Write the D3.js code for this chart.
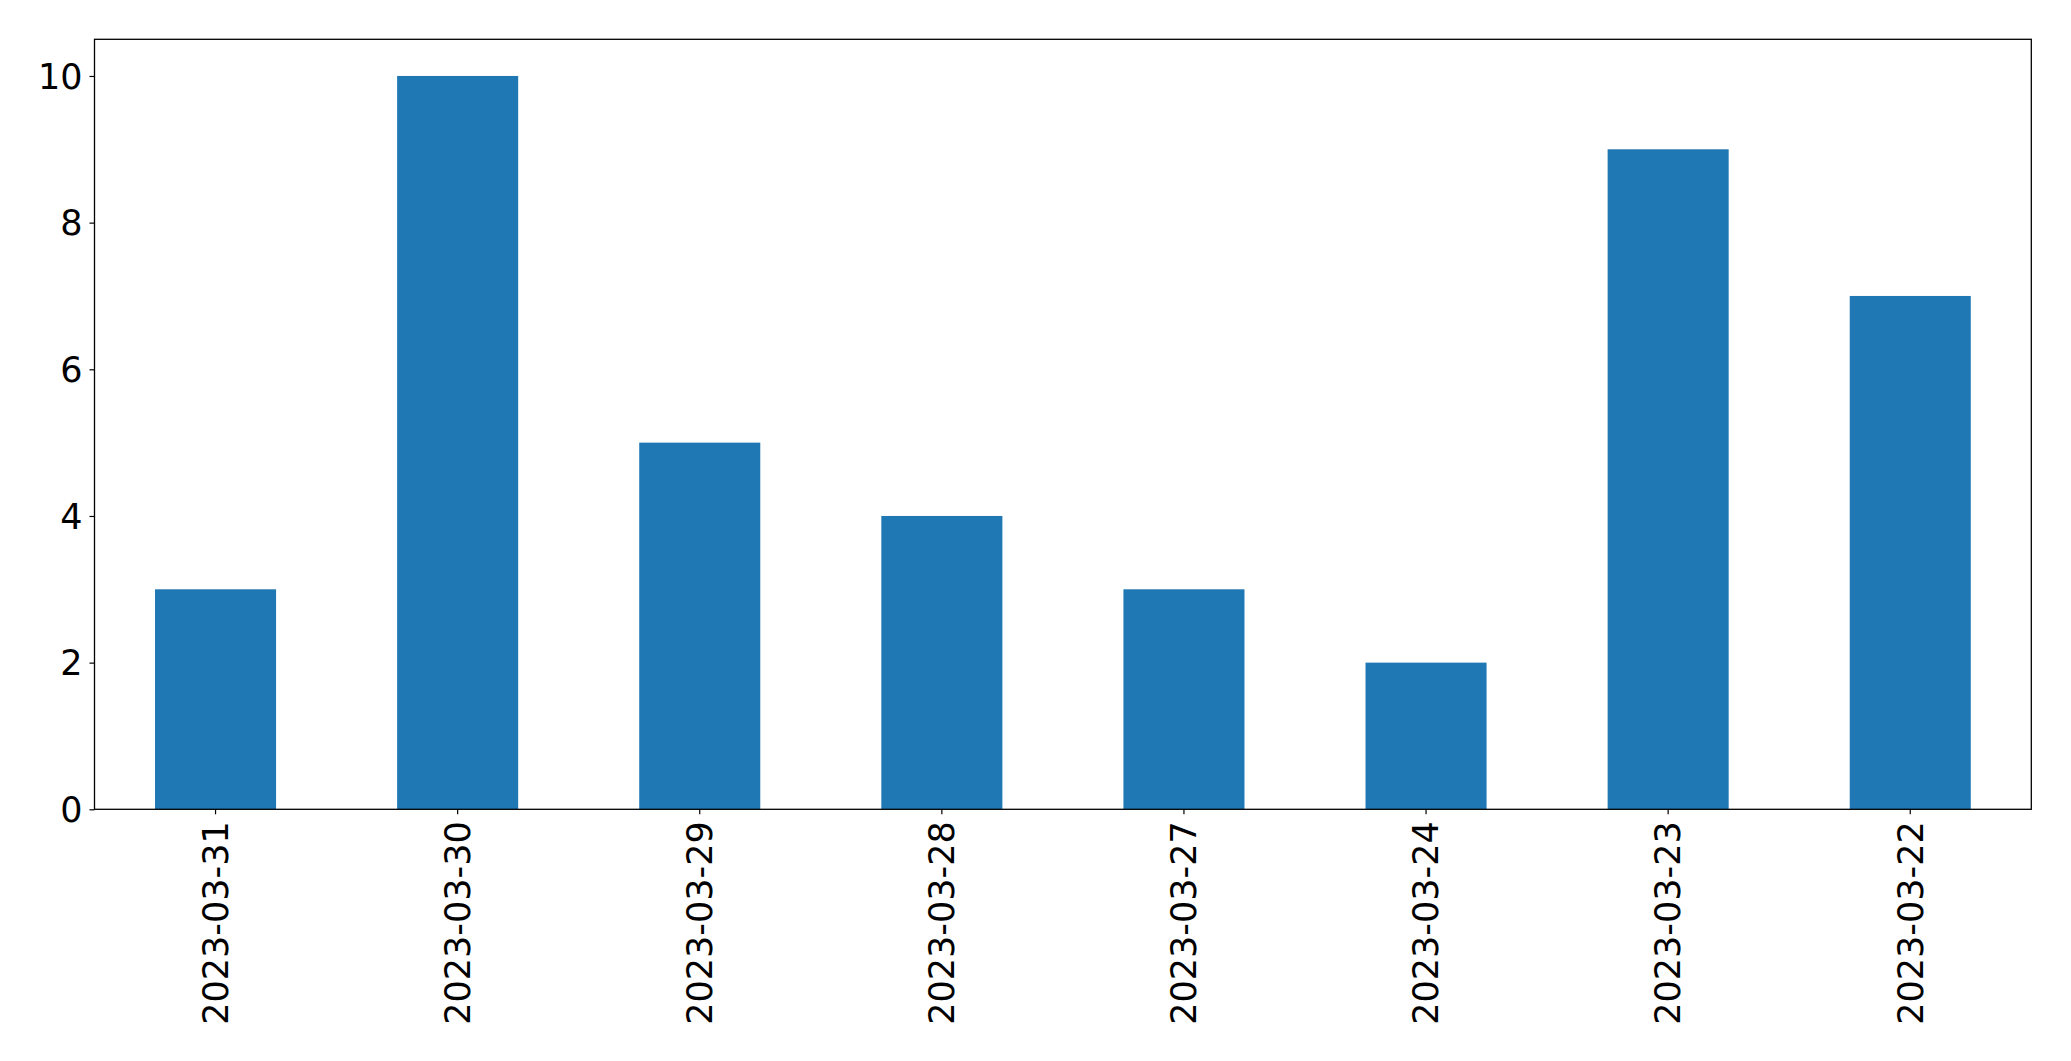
<!DOCTYPE html>
<html><head><meta charset="utf-8">
<script src="https://cdn.jsdelivr.net/npm/d3@7"></script>
<style>body{margin:0;background:#fff}svg{display:block}text{font-family:"DejaVu Sans",sans-serif;fill:#000}</style>
</head><body>
<svg id="c" width="2071" height="1061"></svg>
<script>
const categories = ["2023-03-31","2023-03-30","2023-03-29","2023-03-28","2023-03-27","2023-03-24","2023-03-23","2023-03-22"];
const values = [3,10,5,4,3,2,9,7];
const yTicks = [0,2,4,6,8,10];

const L=94.5,R=2031.3,T=39.3,B=809.3;
const svg=d3.select("#c");
const x=d3.scaleBand().domain(categories).range([L,R]).paddingInner(0.5).paddingOuter(0.25);
const y=d3.scaleLinear().domain([0,10.5]).range([B,T]);

svg.selectAll("rect.bar").data(values).enter().append("rect")
  .attr("x",(d,i)=>x(categories[i])).attr("width",x.bandwidth())
  .attr("y",d=>y(d)).attr("height",d=>B-y(d)).attr("fill","#1f77b4");

const fs="35px";
const yAxis=svg.append("g").attr("transform",`translate(${L},0)`)
  .call(d3.axisLeft(y).tickValues(yTicks).tickFormat(d3.format("d")).tickSize(5).tickPadding(7));
yAxis.select(".domain").remove();
yAxis.selectAll("text").style("font-size",fs).attr("dy","0.35em");
yAxis.selectAll("line").attr("stroke","#000").attr("stroke-width",1.2);

const xAxis=svg.append("g").attr("transform",`translate(0,${B})`)
  .call(d3.axisBottom(x).tickSize(5));
xAxis.select(".domain").remove();
xAxis.selectAll("line").attr("stroke","#000").attr("stroke-width",1.2);
xAxis.selectAll("text").style("font-size",fs)
  .attr("transform","rotate(-90)").attr("text-anchor","end")
  .attr("x",-12).attr("y",0).attr("dy","0.35em");

svg.append("rect").attr("x",L).attr("y",T).attr("width",R-L).attr("height",B-T)
  .attr("fill","none").attr("stroke","#000").attr("stroke-width",1.3);
</script>
</body></html>
